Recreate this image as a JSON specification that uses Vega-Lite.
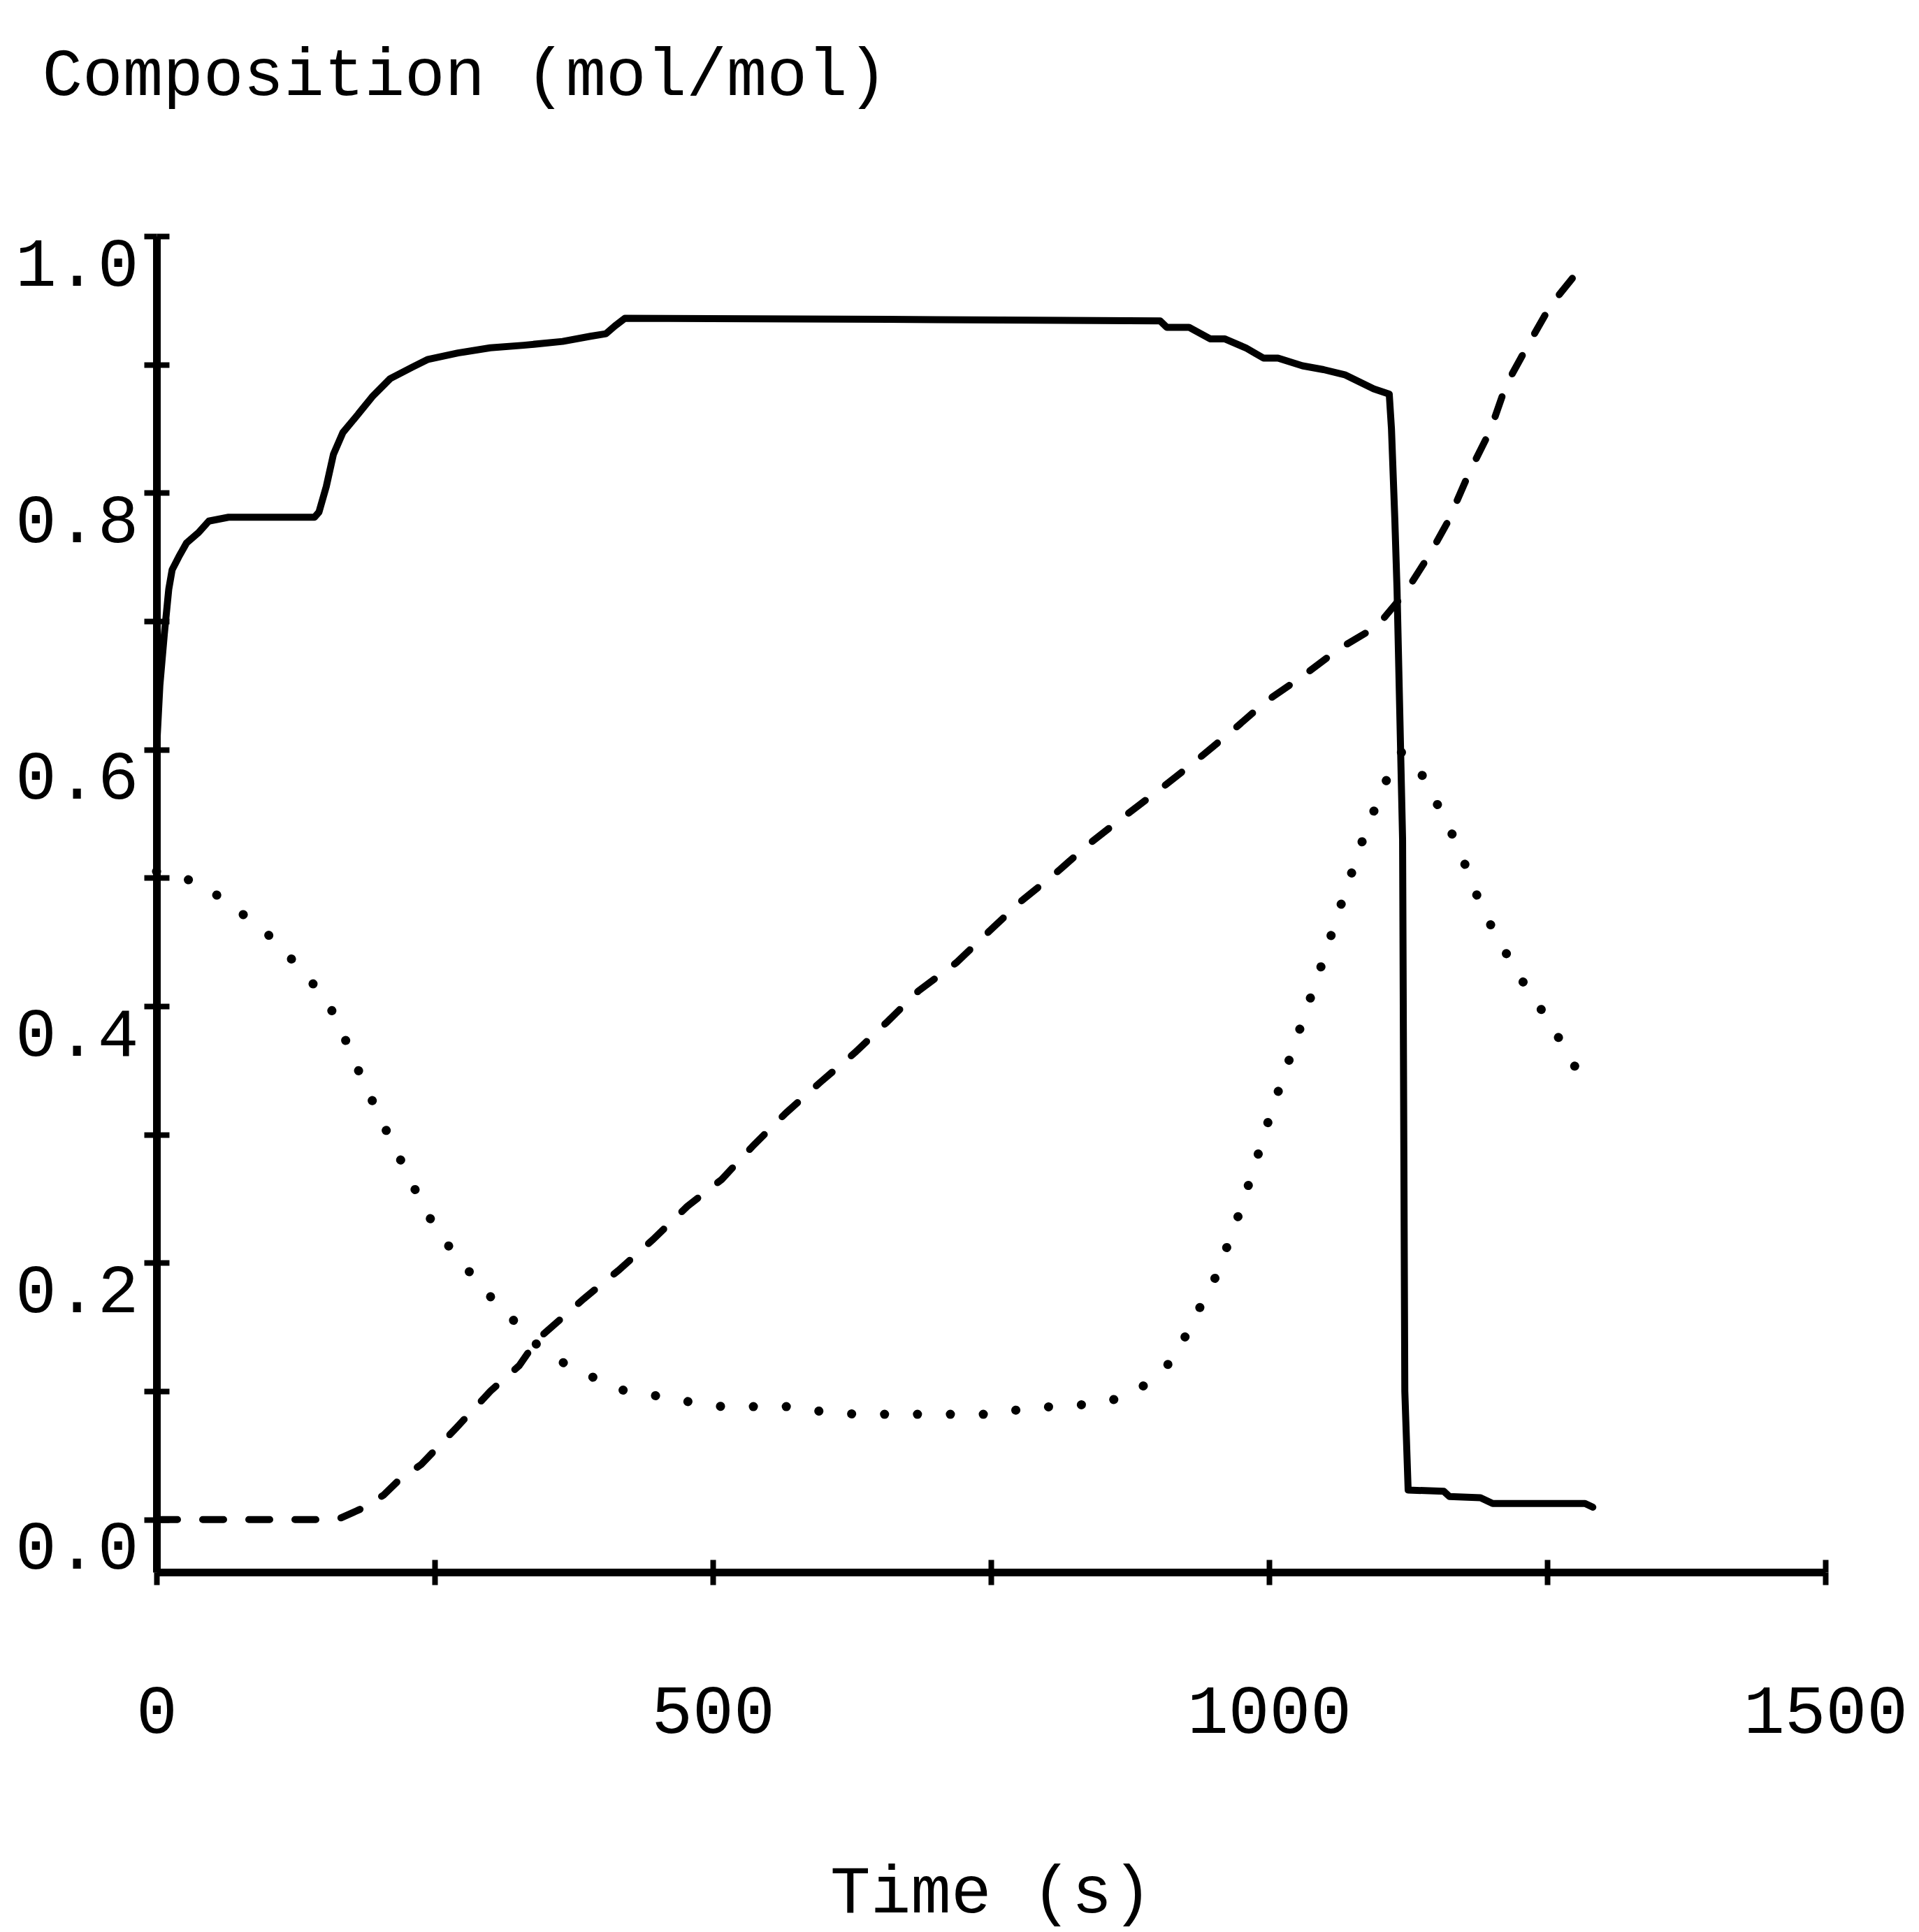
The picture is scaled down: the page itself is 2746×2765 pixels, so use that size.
{
  "$schema": "https://vega.github.io/schema/vega-lite/v6.json",
  "width": 2388,
  "height": 1912,
  "autosize": "none",
  "padding": {"left": 224, "top": 338, "right": 134, "bottom": 515},
  "background": "white",
  "config": {"view": {"stroke": null}, "font": "Liberation Mono"},
  "data": {"values": [
    {"series": "solid", "t": 0, "c": 0.6},
    {"series": "solid", "t": 3, "c": 0.65},
    {"series": "solid", "t": 7, "c": 0.69},
    {"series": "solid", "t": 11, "c": 0.725},
    {"series": "solid", "t": 14, "c": 0.74},
    {"series": "solid", "t": 19.9, "c": 0.75},
    {"series": "solid", "t": 27, "c": 0.761},
    {"series": "solid", "t": 37.7, "c": 0.769},
    {"series": "solid", "t": 47, "c": 0.778},
    {"series": "solid", "t": 64.7, "c": 0.781},
    {"series": "solid", "t": 142, "c": 0.781},
    {"series": "solid", "t": 146, "c": 0.785},
    {"series": "solid", "t": 152.6, "c": 0.805},
    {"series": "solid", "t": 159, "c": 0.83},
    {"series": "solid", "t": 167.5, "c": 0.847},
    {"series": "solid", "t": 180, "c": 0.86},
    {"series": "solid", "t": 194, "c": 0.875},
    {"series": "solid", "t": 210, "c": 0.889},
    {"series": "solid", "t": 230, "c": 0.898},
    {"series": "solid", "t": 244, "c": 0.904},
    {"series": "solid", "t": 271, "c": 0.909},
    {"series": "solid", "t": 300, "c": 0.913},
    {"series": "solid", "t": 330, "c": 0.915},
    {"series": "solid", "t": 365, "c": 0.918},
    {"series": "solid", "t": 390, "c": 0.922},
    {"series": "solid", "t": 404, "c": 0.924},
    {"series": "solid", "t": 412, "c": 0.93},
    {"series": "solid", "t": 421, "c": 0.936},
    {"series": "solid", "t": 700, "c": 0.935},
    {"series": "solid", "t": 902, "c": 0.934},
    {"series": "solid", "t": 908, "c": 0.929},
    {"series": "solid", "t": 928, "c": 0.929},
    {"series": "solid", "t": 947, "c": 0.92},
    {"series": "solid", "t": 960, "c": 0.92},
    {"series": "solid", "t": 979, "c": 0.913},
    {"series": "solid", "t": 995, "c": 0.905},
    {"series": "solid", "t": 1008, "c": 0.905},
    {"series": "solid", "t": 1030, "c": 0.899},
    {"series": "solid", "t": 1049, "c": 0.896},
    {"series": "solid", "t": 1068, "c": 0.892},
    {"series": "solid", "t": 1094, "c": 0.881},
    {"series": "solid", "t": 1108, "c": 0.877},
    {"series": "solid", "t": 1110, "c": 0.85},
    {"series": "solid", "t": 1113, "c": 0.78},
    {"series": "solid", "t": 1115, "c": 0.725},
    {"series": "solid", "t": 1120, "c": 0.53},
    {"series": "solid", "t": 1122, "c": 0.1},
    {"series": "solid", "t": 1125, "c": 0.023},
    {"series": "solid", "t": 1157, "c": 0.022},
    {"series": "solid", "t": 1162, "c": 0.018},
    {"series": "solid", "t": 1190, "c": 0.017},
    {"series": "solid", "t": 1201, "c": 0.0125},
    {"series": "solid", "t": 1284, "c": 0.0125},
    {"series": "solid", "t": 1291, "c": 0.0096},

    {"series": "dashed", "t": 0, "c": 0},
    {"series": "dashed", "t": 150, "c": 0},
    {"series": "dashed", "t": 165, "c": 0.001},
    {"series": "dashed", "t": 183, "c": 0.008},
    {"series": "dashed", "t": 204, "c": 0.019},
    {"series": "dashed", "t": 217, "c": 0.03},
    {"series": "dashed", "t": 238, "c": 0.043},
    {"series": "dashed", "t": 269, "c": 0.071},
    {"series": "dashed", "t": 300, "c": 0.1},
    {"series": "dashed", "t": 326, "c": 0.12},
    {"series": "dashed", "t": 342, "c": 0.14},
    {"series": "dashed", "t": 384, "c": 0.172},
    {"series": "dashed", "t": 415, "c": 0.194},
    {"series": "dashed", "t": 446, "c": 0.218},
    {"series": "dashed", "t": 477, "c": 0.244},
    {"series": "dashed", "t": 508, "c": 0.265},
    {"series": "dashed", "t": 537, "c": 0.292},
    {"series": "dashed", "t": 566, "c": 0.317},
    {"series": "dashed", "t": 597, "c": 0.341},
    {"series": "dashed", "t": 628, "c": 0.364},
    {"series": "dashed", "t": 657, "c": 0.388},
    {"series": "dashed", "t": 685, "c": 0.412},
    {"series": "dashed", "t": 719, "c": 0.434},
    {"series": "dashed", "t": 748, "c": 0.458},
    {"series": "dashed", "t": 776, "c": 0.481},
    {"series": "dashed", "t": 810, "c": 0.505},
    {"series": "dashed", "t": 839, "c": 0.527},
    {"series": "dashed", "t": 870, "c": 0.548},
    {"series": "dashed", "t": 902, "c": 0.569},
    {"series": "dashed", "t": 934, "c": 0.591},
    {"series": "dashed", "t": 966, "c": 0.614},
    {"series": "dashed", "t": 998, "c": 0.638},
    {"series": "dashed", "t": 1030, "c": 0.657},
    {"series": "dashed", "t": 1062, "c": 0.678},
    {"series": "dashed", "t": 1097, "c": 0.696},
    {"series": "dashed", "t": 1123, "c": 0.723},
    {"series": "dashed", "t": 1145, "c": 0.753},
    {"series": "dashed", "t": 1161, "c": 0.778},
    {"series": "dashed", "t": 1180, "c": 0.816},
    {"series": "dashed", "t": 1199, "c": 0.849},
    {"series": "dashed", "t": 1213, "c": 0.884},
    {"series": "dashed", "t": 1232, "c": 0.914},
    {"series": "dashed", "t": 1253, "c": 0.946},
    {"series": "dashed", "t": 1278, "c": 0.973},
    {"series": "dashed", "t": 1287, "c": 0.979},

    {"series": "dotted", "t": 0, "c": 0.505},
    {"series": "dotted", "t": 20, "c": 0.5},
    {"series": "dotted", "t": 37.7, "c": 0.497},
    {"series": "dotted", "t": 62.8, "c": 0.481},
    {"series": "dotted", "t": 87.9, "c": 0.465},
    {"series": "dotted", "t": 110.5, "c": 0.448},
    {"series": "dotted", "t": 129.6, "c": 0.428},
    {"series": "dotted", "t": 149.4, "c": 0.409},
    {"series": "dotted", "t": 163.8, "c": 0.387},
    {"series": "dotted", "t": 175.4, "c": 0.3615},
    {"series": "dotted", "t": 188.3, "c": 0.337},
    {"series": "dotted", "t": 201.5, "c": 0.312},
    {"series": "dotted", "t": 215, "c": 0.288},
    {"series": "dotted", "t": 228.5, "c": 0.264},
    {"series": "dotted", "t": 242, "c": 0.24},
    {"series": "dotted", "t": 258.6, "c": 0.2175},
    {"series": "dotted", "t": 277.4, "c": 0.197},
    {"series": "dotted", "t": 297.5, "c": 0.176},
    {"series": "dotted", "t": 318.5, "c": 0.1575},
    {"series": "dotted", "t": 337.7, "c": 0.139},
    {"series": "dotted", "t": 363.8, "c": 0.123},
    {"series": "dotted", "t": 392, "c": 0.111},
    {"series": "dotted", "t": 418.4, "c": 0.101},
    {"series": "dotted", "t": 448.6, "c": 0.0965},
    {"series": "dotted", "t": 477, "c": 0.092},
    {"series": "dotted", "t": 508.4, "c": 0.088},
    {"series": "dotted", "t": 569, "c": 0.088},
    {"series": "dotted", "t": 599, "c": 0.084},
    {"series": "dotted", "t": 629.5, "c": 0.082},
    {"series": "dotted", "t": 753, "c": 0.082},
    {"series": "dotted", "t": 780.8, "c": 0.0866},
    {"series": "dotted", "t": 841.7, "c": 0.09},
    {"series": "dotted", "t": 871, "c": 0.0955},
    {"series": "dotted", "t": 896, "c": 0.109},
    {"series": "dotted", "t": 917, "c": 0.128},
    {"series": "dotted", "t": 929, "c": 0.151},
    {"series": "dotted", "t": 950, "c": 0.185},
    {"series": "dotted", "t": 969, "c": 0.228},
    {"series": "dotted", "t": 985, "c": 0.27},
    {"series": "dotted", "t": 1002, "c": 0.318},
    {"series": "dotted", "t": 1026, "c": 0.378},
    {"series": "dotted", "t": 1046, "c": 0.429},
    {"series": "dotted", "t": 1065, "c": 0.48},
    {"series": "dotted", "t": 1084.7, "c": 0.531},
    {"series": "dotted", "t": 1096, "c": 0.556},
    {"series": "dotted", "t": 1107.8, "c": 0.581},
    {"series": "dotted", "t": 1118, "c": 0.598},
    {"series": "dotted", "t": 1126.6, "c": 0.596},
    {"series": "dotted", "t": 1142.3, "c": 0.573},
    {"series": "dotted", "t": 1156.5, "c": 0.548},
    {"series": "dotted", "t": 1170, "c": 0.5245},
    {"series": "dotted", "t": 1181, "c": 0.499},
    {"series": "dotted", "t": 1192.5, "c": 0.474},
    {"series": "dotted", "t": 1207, "c": 0.451},
    {"series": "dotted", "t": 1222, "c": 0.427},
    {"series": "dotted", "t": 1239, "c": 0.405},
    {"series": "dotted", "t": 1256, "c": 0.382},
    {"series": "dotted", "t": 1271, "c": 0.3586},
    {"series": "dotted", "t": 1287, "c": 0.3357}
  ]},
  "layer": [
    {
      "transform": [{"filter": "datum.series === 'solid'"}],
      "mark": {"type": "line", "color": "black", "strokeWidth": 10, "strokeJoin": "round", "strokeCap": "round"},
      "encoding": {
        "x": {"field": "t", "type": "quantitative",
          "scale": {"domain": [0, 1500], "nice": false, "zero": false},
          "axis": {"orient": "bottom", "values": [0, 250, 500, 750, 1000, 1250, 1500], "grid": false,
            "domain": true, "domainColor": "black", "domainWidth": 11,
            "ticks": true, "tickColor": "black", "tickWidth": 8, "tickSize": 18,
            "labelExpr": "datum.value % 500 == 0 ? datum.label : ''", "format": "d", "labelLimit": 0,
            "labelFont": "Liberation Mono", "labelFontSize": 98, "labelFontWeight": "normal", "labelColor": "black",
            "labelBaseline": "alphabetic", "labelPadding": 211, "labelFlush": false, "labelOverlap": false, "labelAlign": "center",
            "title": "Time (s)", "titleFont": "Liberation Mono", "titleFontSize": 96, "titleFontWeight": "normal", "titleColor": "black",
            "titleBaseline": "alphabetic", "titleAlign": "center", "titleX": 1194, "titleY": 486, "titleLimit": 0}},
        "y": {"field": "c", "type": "quantitative",
          "scale": {"domain": [-0.041, 1.0], "nice": false, "zero": false},
          "axis": {"orient": "left", "values": [0, 0.1, 0.2, 0.3, 0.4, 0.5, 0.6, 0.7, 0.8, 0.9, 1.0], "grid": false,
            "domain": true, "domainColor": "black", "domainWidth": 11,
            "ticks": true, "tickColor": "black", "tickWidth": 8, "tickSize": 18,
            "labelExpr": "round(datum.value * 10) % 2 == 0 ? format(datum.value, '.1f') : ''", "labelLimit": 0,
            "labelFont": "Liberation Mono", "labelFontSize": 98, "labelFontWeight": "normal", "labelColor": "black",
            "labelBaseline": "alphabetic", "labelOffset": 70, "labelPadding": 8, "labelFlush": false, "labelOverlap": false, "labelAlign": "right",
            "title": "Composition (mol/mol)", "titleFont": "Liberation Mono", "titleFontSize": 96, "titleFontWeight": "normal", "titleColor": "black",
            "titleAngle": 0, "titleAlign": "left", "titleBaseline": "alphabetic", "titleX": -164, "titleY": -203, "titleLimit": 0}}
      }
    },
    {
      "transform": [{"filter": "datum.series === 'dashed'"}],
      "mark": {"type": "line", "color": "black", "strokeWidth": 10, "strokeDash": [30, 36], "strokeCap": "round"},
      "encoding": {
        "x": {"field": "t", "type": "quantitative",
          "axis": {"orient": "bottom", "values": [0, 250, 500, 750, 1000, 1250, 1500], "grid": false, "domain": false,
            "labels": false, "title": null, "tickColor": "black", "tickWidth": 8, "tickSize": -18}},
        "y": {"field": "c", "type": "quantitative",
          "axis": {"orient": "left", "values": [0, 0.1, 0.2, 0.3, 0.4, 0.5, 0.6, 0.7, 0.8, 0.9, 1.0], "grid": false, "domain": false,
            "labels": false, "title": null, "tickColor": "black", "tickWidth": 8, "tickSize": -18}}
      }
    },
    {
      "transform": [{"filter": "datum.series === 'dotted'"}],
      "mark": {"type": "line", "color": "black", "strokeWidth": 13, "strokeDash": [0.1, 47], "strokeCap": "round"},
      "encoding": {
        "x": {"field": "t", "type": "quantitative", "axis": null},
        "y": {"field": "c", "type": "quantitative", "axis": null}
      }
    }
  ],
  "resolve": {"axis": {"x": "independent", "y": "independent"}}
}
